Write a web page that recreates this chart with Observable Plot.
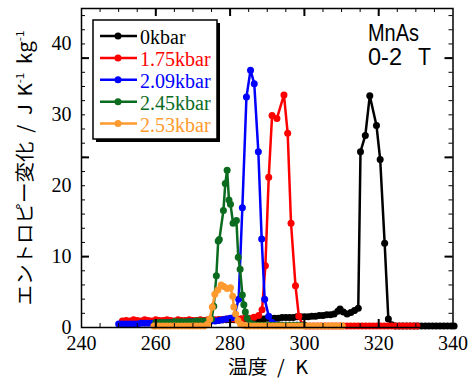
<!DOCTYPE html>
<html><head><meta charset="utf-8">
<script src="https://cdn.jsdelivr.net/npm/d3@7"></script>
<script src="https://cdn.jsdelivr.net/npm/@observablehq/plot@0.6"></script>
<style>
body{margin:0;background:#fff} svg{display:block}
#chart svg g[aria-label$="axis tick label"] text, #chart svg .serif {font-family: "Liberation Serif", "Times New Roman", serif !important;}
</style>
</head><body><div id="chart"></div>
<script>
// ---- data ----
const seriesNames = ["0kbar", "1.75kbar", "2.09kbar", "2.45kbar", "2.53kbar"];
const seriesColors = ["#000000", "#ff0000", "#0000ff", "#0b6b1e", "#ff9a2e"];

const T0 = [251,252,253,254,255,256,257,258,259,260,261,262,263,264,265,266,267,268,269,270,271,272,273,274,275,276,277,278,279,280,281,282,283,284,285,286,287,288,289,290,291,292,293,294,295,296,297,298,299,300,301,302,303,304,305,306,307,308,
  309,309.6,310.5,311.5,312.5,313.5,314.5,315.1,316.4,317.6,319.4,320.4,321.6,322.6,323.5,
  324.5,325.5,326.5,327.5,328.5,329.5,330.5,331.5,332.5,333.5,334.5,335.5,336.5,337.5,338.5,339.5,340.3];
const S0 = [0.6,0.6,0.6,0.6,0.7,0.7,0.7,0.7,0.7,0.7,0.8,0.8,
  0.8,0.8,0.8,0.8,0.9,0.9,0.9,0.9,0.9,1.0,1.0,1.0,
  1.0,1.0,1.1,1.1,1.1,1.1,1.1,1.1,1.2,1.2,1.2,1.2,
  1.2,1.2,1.2,1.3,1.3,1.3,1.3,1.4,1.4,1.4,1.4,1.5,
  1.5,1.5,1.5,1.6,1.6,1.7,1.7,1.8,1.8,1.9,
  2.3,2.6,2.2,1.9,2.1,2.4,2.7,24.8,27.1,32.7,28.5,23.7,11.9,1.2,0.4,
  0.2,0.2,0.2,0.2,0.2,0.2,0.2,0.2,0.2,0.2,0.2,0.2,0.2,0.2,0.2,0.2,0.2];

const T1 = [251,252,253,254,255,256,257,258,259,260,261,262,263,264,265,266,267,268,269,270,271,272,273,274,275,276,277,278,279,280,281,282,283,284,285,
  286.4,287.7,288.6,289.5,290.4,291.3,292.6,294.5,295.5,296.4,297.6,298.5,299.5,
  300.5,301.5,302.5,303.5,304.5,305.5,306.5,307.5,308.5,309.5,310.5,311.5,312.5,313.5,314.5,315.5,316.5,317.5,318.5,319.5,320.5,321.5,322.5,323.5,324.5,325.5,326.5,327.5,328.5,329.5,330.3];
const S1 = [0.9,1.0,0.9,1.1,1.0,0.9,1.1,1.0,0.9,1.1,1.0,1.0,
  1.1,1.0,0.9,1.1,1.0,1.0,1.1,1.0,1.0,1.1,1.0,1.1,
  1.0,1.1,1.1,1.1,1.2,1.2,1.2,1.2,1.2,1.3,1.3,
  1.45,1.7,2.5,8.7,21.2,29.9,29.5,32.8,27.4,14.7,5.9,1.6,0.4,
  0.2,0.2,0.2,0.2,0.2,0.2,0.2,0.2,0.2,0.2,0.2,0.2,0.2,0.2,0.2,0.2,0.2,0.2,0.2,0.2,0.2,0.2,0.2,0.2,0.2,0.2,0.2,0.2,0.2,0.2,0.2];

const T2 = [250,251,252,253,254,255,256,257,258,259,260,261,262,263,264,265,266,267,268,269,270,271,272,273,274,275,276,277,278,279,280,281,
  282.3,283.3,284.4,285.5,286.5,287.6,288.5,289.3,290.4,291.3,292.3,293,294,295,296,297,298,299,300];
const S2 = [0.5,0.5,0.5,0.5,0.5,0.5,0.6,0.6,0.6,0.6,0.6,0.6,
  0.6,0.7,0.7,0.7,0.7,0.7,0.7,0.8,0.8,0.8,0.8,0.8,
  0.9,0.9,0.9,1.0,1.1,1.2,1.3,1.4,
  4.0,16.9,32.5,36.3,34.4,24.8,12.5,4.0,1.6,0.7,0.4,0.3,0.3,0.3,0.3,0.3,0.3,0.3,0.3];

const T3 = [260,261,262,263,264,265,266,267,268,269,270,271,272,273,274,275,
  275.6,276.3,276.8,277.1,278.2,278.7,279.2,279.7,280.1,280.8,281.7,282.2,282.7,283.3,283.7,284.1,284.6,285.5,286.5,
  287,288,289,290,291,292,293,294,295,296,297,298,299,300];
const S3 = [0.7,0.7,0.7,0.7,0.7,0.8,0.8,0.8,0.8,0.8,0.8,0.9,0.9,0.9,0.9,1.2,
  3.0,7.3,12.2,12.4,16.5,20.3,22.2,18.0,17.4,14.7,15.1,9.9,8.2,4.6,3.2,2.2,1.3,0.6,0.4,
  0.3,0.3,0.3,0.3,0.3,0.3,0.3,0.3,0.3,0.3,0.3,0.3,0.3,0.3];

const T4 = [259.5,260,261,262,263,264,265,266,267,268,269,270,271,272,273,
  274,274.5,275.2,275.9,276.7,277.6,278.3,279.2,280.1,280.7,281.0,281.5,282.1,282.8,283.5,
  284.5,285.5,286.5,287.5,288.5,289.5,290.5,291.5,292.5,293.5,294.5,295.5,296.5,297.5,298.5,299.5,300.5,301.5,302.5,303.5,304.5,305.5,306.5,307.5,308.5,309.5,310.2];
const S4 = [0.2,0.2,0.2,0.2,0.2,0.2,0.2,0.2,0.2,0.2,0.2,0.2,0.2,0.2,0.2,
  0.5,1.2,2.9,4.7,5.3,6.0,5.8,5.5,5.6,4.4,2.9,1.9,1.0,0.5,0.3,
  0.2,0.2,0.2,0.2,0.2,0.2,0.2,0.2,0.2,0.2,0.2,0.2,0.2,0.2,0.2,0.2,0.2,0.2,0.2,0.2,0.2,0.2,0.2,0.2,0.2,0.2,0.2];

const xTickLabels = [240, 260, 280, 300, 320, 340];
const yTickLabels = [0, 10, 20, 30, 40];
const xMinorTicks = [245,250,255,260,265,270,275,280,285,290,295,300,305,310,315,320,325,330,335];
const xMajorTicks = [260, 280, 300, 320];
const yMinorTicks = [2,4,6,8,10,12,14,16,18,20,22,24,26,28,30,32,34,36,38,40,42,44];
const yMajorTicks = [10, 24, 38];
const annotationLine1 = "MnAs";
const annotationLine2 = ["0-2", "T"];

// ---- build ----
const Ts = [T0, T1, T2, T3, T4];
const Ss = [S0, S1, S2, S3, S4];
const series = Ts.map((T, i) => T.map((t, j) => ({T: t, S: Ss[i][j]})));

const W = 469, H = 381, mt = 8, mb = 54, ml = 81, mr = 16.5;
const innerW = W - ml - mr, innerH = H - mt - mb;
const serif = '"Liberation Serif", "Times New Roman", serif';

const dataMarks = [];
series.forEach((d, i) => {
  dataMarks.push(Plot.line(d, {x: "T", y: "S", stroke: seriesColors[i], strokeWidth: 2.5}));
  dataMarks.push(Plot.dot(d, {x: "T", y: "S", r: 3.5, fill: seriesColors[i], stroke: "none"}));
});

const chart = Plot.plot({
  width: W, height: H,
  marginTop: mt, marginBottom: mb, marginLeft: ml, marginRight: mr,
  x: {domain: [240, 340]},
  y: {domain: [0, 45]},
  style: {fontFamily: serif, fontSize: "20px", color: "#000", background: "#fff"},
  marks: [
    ...dataMarks,
    Plot.tickX(xMinorTicks, {x: d => d, insetTop: innerH - 4, stroke: "#000"}),
    Plot.tickX(xMinorTicks, {x: d => d, insetBottom: innerH - 4, stroke: "#000"}),
    Plot.tickX(xMajorTicks, {x: d => d, insetTop: innerH - 8, stroke: "#000", strokeWidth: 2}),
    Plot.tickX(xMajorTicks, {x: d => d, insetBottom: innerH - 8, stroke: "#000", strokeWidth: 2}),
    Plot.tickY(yMinorTicks, {y: d => d, insetRight: innerW - 4, stroke: "#000"}),
    Plot.tickY(yMinorTicks, {y: d => d, insetLeft: innerW - 4, stroke: "#000"}),
    Plot.tickY(yMajorTicks, {y: d => d, insetRight: innerW - 8, stroke: "#000", strokeWidth: 2}),
    Plot.tickY(yMajorTicks, {y: d => d, insetLeft: innerW - 8, stroke: "#000", strokeWidth: 2}),
    Plot.frame({stroke: "#000", strokeWidth: 1.5}),
    Plot.axisX({ticks: xTickLabels, tickSize: 0, tickPadding: 8, label: null, fontSize: 20}),
    Plot.axisY({ticks: yTickLabels, tickSize: 0, tickPadding: 10, label: null, fontSize: 20})
  ]
});
document.getElementById("chart").appendChild(chart);

const svg = d3.select(chart);
// legend
const lg = svg.append("g");
lg.append("rect").attr("x", 96).attr("y", 23).attr("width", 124).attr("height", 119).attr("fill", "#000");
lg.append("rect").attr("x", 93).attr("y", 20).attr("width", 124).attr("height", 119)
  .attr("fill", "#fff").attr("stroke", "#000").attr("stroke-width", 1.5);
seriesNames.forEach((name, i) => {
  const cy = 36 + i * 21.9;
  lg.append("line").attr("x1", 100).attr("x2", 137).attr("y1", cy).attr("y2", cy)
    .attr("stroke", seriesColors[i]).attr("stroke-width", 2.5);
  lg.append("circle").attr("cx", 118).attr("cy", cy).attr("r", 3.5).attr("fill", seriesColors[i]);
  lg.append("text").attr("class", "serif").attr("x", 140).attr("y", cy + 8)
    .attr("text-anchor", "start").attr("fill", seriesColors[i])
    .style("font-size", "20px").text(name);
});

// annotation (narrow gothic look)
const sansFont = "'Liberation Sans', sans-serif";
function annot(x, y, len, s) {
  svg.append("text").attr("x", x).attr("y", y).attr("text-anchor", "start")
    .attr("textLength", len).attr("lengthAdjust", "spacingAndGlyphs")
    .style("font-family", sansFont).style("font-size", "24px").attr("fill", "#000").text(s);
}
annot(368, 40.7, 51, annotationLine1);
annot(368, 65, 34, annotationLine2[0]);
annot(418, 65, 13, annotationLine2[1]);

// x label
const jp = "'Noto Sans CJK JP', sans-serif";
const xl = svg.append("text").attr("x", 268).attr("y", 374).attr("text-anchor", "middle")
  .attr("textLength", 80).attr("lengthAdjust", "spacingAndGlyphs")
  .style("font-family", jp).style("font-size", "19px").attr("fill", "#000");
xl.append("tspan").text("温度");
xl.append("tspan").attr("dx", 9).text("/");
xl.append("tspan").attr("dx", 10).text("K");

// y label
const yl = svg.append("text").attr("transform", "translate(32,168) rotate(-90)").attr("text-anchor", "middle")
  .attr("textLength", 275).attr("lengthAdjust", "spacingAndGlyphs")
  .style("font-family", jp).style("font-size", "19px").attr("fill", "#000");
yl.append("tspan").text("エントロピー変化");
yl.append("tspan").attr("dx", 8).text("/");
yl.append("tspan").attr("dx", 9).text("J");
yl.append("tspan").attr("dx", 7).text("K");
yl.append("tspan").attr("dy", -8).style("font-size", "11px").text("-1");
yl.append("tspan").attr("dx", 8).attr("dy", 8).text("kg");
yl.append("tspan").attr("dy", -8).style("font-size", "11px").text("-1");
</script>
</body></html>
